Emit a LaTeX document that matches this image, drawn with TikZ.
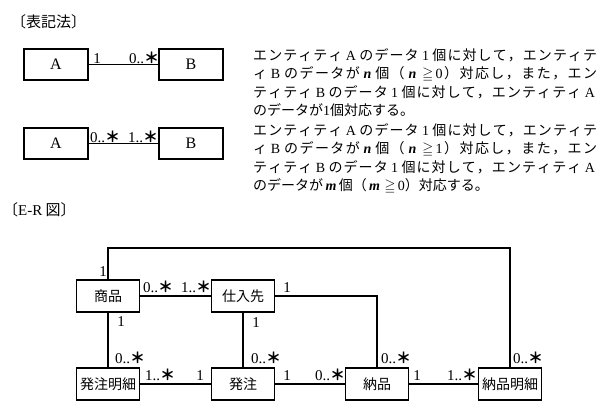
\documentclass[tikz,border=0pt]{standalone}
\usepackage{fontspec}
\usepackage{amssymb}
\setmainfont{Liberation Serif}
\newfontfamily\cjk{Noto Sans CJK JP}
\def\spreadtext#1{#1\spreadloop}
\def\spreadloop#1{\ifx#1\relax\else\hfil#1\expandafter\spreadloop\fi}
\newcommand\LA{\mbox{\rmfamily\,A\,}}
\newcommand\LB{\mbox{\rmfamily\,B\,}}
\newcommand\Lone{\mbox{\rmfamily\,1\,}}
\newcommand\Ln{\mbox{\rmfamily\bfseries\itshape\,n\,}}
\newcommand\Lm{\mbox{\rmfamily\bfseries\itshape\,m\,}}
\newcommand\Lgz{\mbox{\,$\geqq$\,\rmfamily 0}}
\newcommand\Lgo{\mbox{\,$\geqq$\,\rmfamily 1}}
\newcommand\mstar{{\cjk\bfseries ＊}}
\begin{document}
\begin{tikzpicture}[x=1pt,y=-1pt,
  box/.style={draw, line width=1.4pt, minimum width=63pt, minimum height=32pt, inner sep=0pt, font=\cjk\fontsize{14}{16}\selectfont},
  abox/.style={draw, line width=1.4pt, minimum width=64pt, minimum height=31pt, inner sep=0pt, font=\fontsize{16}{18}\selectfont},
  lbl/.style={inner sep=0pt, anchor=base, font=\fontsize{15}{17}\selectfont},
  desc/.style={inner sep=0pt, anchor=base west, font=\cjk\fontsize{14}{16}\selectfont},
  head/.style={inner sep=0pt, anchor=west, font=\cjk\fontsize{15}{17}\selectfont},
  conn/.style={line width=1.1pt}]
\useasboundingbox (0,0) rectangle (600,416);

% headings
\node[head] (h1) at (11,22) {〔表記法〕};
\node[head] (h2) at (3,210) {〔{\rmfamily E-R} 図〕};

% notation
\node[abox] (a1) at (56,64.5) {A};
\node[abox] (b1) at (191,64.5) {B};
\draw[conn] (a1) -- (b1);
\node[lbl] (n1) at (97,63) {1};
\node[lbl] (n2) at (144,63) {0..\mstar};
\node[abox] (a2) at (56,143.5) {A};
\node[abox] (b2) at (191,143.5) {B};
\draw[conn] (a2) -- (b2);
\node[lbl] (n3) at (105,142) {0..\mstar};
\node[lbl] (n4) at (143,142) {1..\mstar};

% description
\node[desc] (t1) at (253,60) {\makebox[344pt][s]{\spreadtext エンティティ\LA のデータ\Lone 個に対して，エンティテ\relax}};
\node[desc] (t2) at (253,78) {\makebox[344pt][s]{\spreadtext ィ\LB のデータが\Ln 個（\Ln\Lgz）対応し，また，エン\relax}};
\node[desc] (t3) at (253,97) {\makebox[344pt][s]{\spreadtext ティティ\LB のデータ\Lone 個に対して，エンティティ\LA\relax}};
\node[desc] (t4) at (253,115) {のデータが{\rmfamily 1}個対応する。};
\node[desc] (t5) at (253,135) {\makebox[344pt][s]{\spreadtext エンティティ\LA のデータ\Lone 個に対して，エンティテ\relax}};
\node[desc] (t6) at (253,153) {\makebox[344pt][s]{\spreadtext ィ\LB のデータが\Ln 個（\Ln\Lgo）対応し，また，エン\relax}};
\node[desc] (t7) at (253,172) {\makebox[344pt][s]{\spreadtext ティティ\LB のデータ\Lone 個に対して，エンティティ\LA\relax}};
\node[desc] (t8) at (253,190) {のデータが\Lm 個（\Lm\Lgz）対応する。};

% E-R diagram
\node[box] (sh) at (108,296) {商品};
\node[box] (sr) at (243,296) {仕入先};
\node[box] (hm) at (108,384) {発注明細};
\node[box] (hc) at (243,384) {発注};
\node[box] (nh) at (377,384) {納品};
\node[box] (nm) at (510,384) {納品明細};
\coordinate (topy) at (300,248);

\draw[conn] (sh.north) |- (topy) -| (nm.north);
\draw[conn] (sh) -- (sr);
\draw[conn] (sr.east) -| (nh.north);
\draw[conn] (sh) -- (hm);
\draw[conn] (sr) -- (hc);
\draw[conn] (hm) -- (hc);
\draw[conn] (hc) -- (nh);
\draw[conn] (nh) -- (nm);

\node[lbl] (e1) at (103,276) {1};
\node[lbl] (e2) at (158,292) {0..\mstar};
\node[lbl] (e3) at (196,292) {1..\mstar};
\node[lbl] (e4) at (287,292) {1};
\node[lbl] (e5) at (121,326) {1};
\node[lbl] (e6) at (130,363) {0..\mstar};
\node[lbl] (e7) at (256,327) {1};
\node[lbl] (e8) at (266,363) {0..\mstar};
\node[lbl] (e9) at (396,363) {0..\mstar};
\node[lbl] (e10) at (528,363) {0..\mstar};
\node[lbl] (e11) at (160,380) {1..\mstar};
\node[lbl] (e12) at (200,380) {1};
\node[lbl] (e13) at (287,380) {1};
\node[lbl] (e14) at (330,380) {0..\mstar};
\node[lbl] (e15) at (417,380) {1};
\node[lbl] (e16) at (462,380) {1..\mstar};
\end{tikzpicture}
\end{document}
